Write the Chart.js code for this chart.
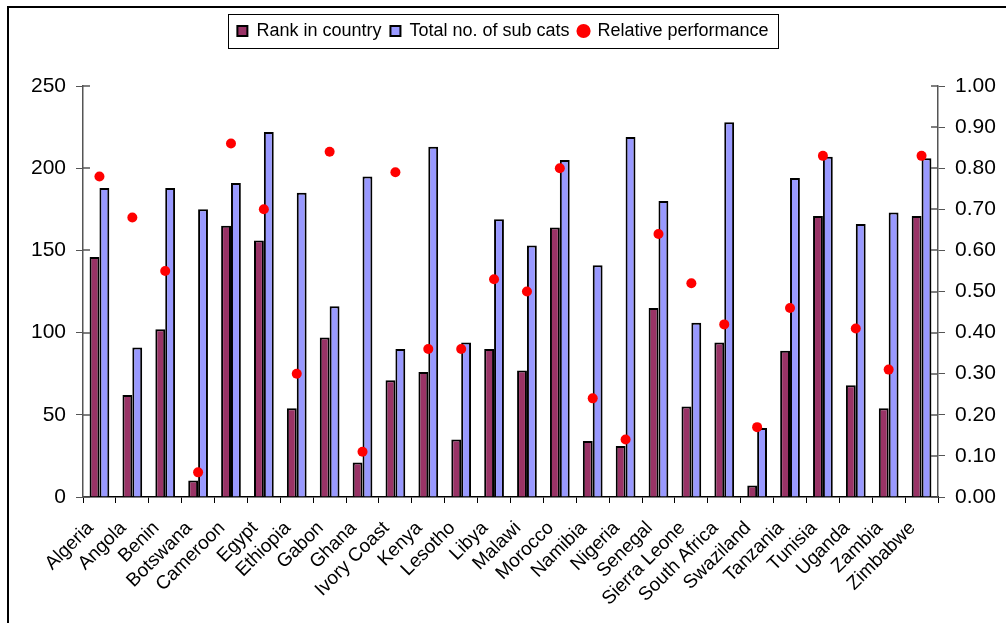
<!DOCTYPE html>
<html>
<head>
<meta charset="utf-8">
<script src="https://cdn.jsdelivr.net/npm/chart.js@4.4.0/dist/chart.umd.min.js"></script>
<style>
  html, body { margin: 0; padding: 0; background: #fff; overflow: hidden; }
  #wrap { position: relative; width: 1006px; height: 623px; }
  #frame { position: absolute; left: 7px; top: 6px; width: 1200px; height: 800px;
           border-left: 2px solid #000; border-top: 2px solid #000; pointer-events: none; }
  canvas { position: absolute; left: 0; top: 0; }
</style>
</head>
<body>
<div id="wrap">
  <canvas id="chart" width="1006" height="623"></canvas>
  <div id="frame"></div>
</div>
<script>
'use strict';

const countries = ['Algeria','Angola','Benin','Botswana','Cameroon','Egypt','Ethiopia','Gabon','Ghana','Ivory Coast',
  'Kenya','Lesotho','Libya','Malawi','Morocco','Namibia','Nigeria','Senegal','Sierra Leone','South Africa',
  'Swaziland','Tanzania','Tunisia','Uganda','Zambia','Zimbabwe'];
const rankInCountry = [146,62,102,10,165,156,54,97,21,71,76,35,90,77,164,34,31,115,55,94,7,89,171,68,54,171];
const totalSubCats = [188,91,188,175,191,222,185,116,195,90,213,94,169,153,205,141,219,180,106,228,42,194,207,166,173,206];
const relativePerf = [0.78,0.68,0.55,0.06,0.86,0.70,0.30,0.84,0.11,0.79,0.36,0.36,0.53,0.50,0.80,0.24,0.14,0.64,0.52,0.42,0.17,0.46,0.83,0.41,0.31,0.83];

const FONT = 'Liberation Sans, Arial, sans-serif';

// stretch legend block so the plot starts lower, box it, and draw ticks crossing the axes
const legendBox = {
  id: 'legendBox',
  afterInit(chart) {
    const lg = chart.legend;
    const orig = lg.fit;
    lg.fit = function() { orig.call(this); this.height += 36; };
  },
  afterDraw(chart) {
    const ctx = chart.ctx;
    const boxes = chart.legend.legendHitBoxes;
    if (boxes && boxes.length) {
      const l = Math.min(...boxes.map(b=>b.left)) - 9;
      const r = Math.max(...boxes.map(b=>b.left+b.width)) + 10;
      const t = boxes[0].top - 8;
      const h = boxes[0].height + 16;
      ctx.save();
      ctx.strokeStyle = '#000'; ctx.lineWidth = 1;
      ctx.strokeRect(Math.round(l)+0.5, Math.round(t)+0.5, Math.round(r-l), Math.round(h));
      ctx.restore();
    }
    // inner half of the tick marks (Excel style ticks cross the axis)
    const {y, y1} = chart.scales;
    ctx.save();
    ctx.strokeStyle = '#555'; ctx.lineWidth = 1.5;
    ctx.beginPath();
    y.ticks.forEach(t=>{ const py = Math.round(y.getPixelForValue(t.value)); ctx.moveTo(y.right, py); ctx.lineTo(y.right+7, py); });
    y1.ticks.forEach(t=>{ const py = Math.round(y1.getPixelForValue(t.value)); ctx.moveTo(y1.left, py); ctx.lineTo(y1.left-7, py); });
    ctx.stroke();
    ctx.restore();
  }
};

new Chart(document.getElementById('chart'), {
  type: 'bar',
  data: {
    labels: countries,
    datasets: [
      {label:'Rank in country',data:rankInCountry,backgroundColor:'#993366',borderColor:'#000',borderWidth:2,yAxisID:'y',order:1,pointStyle:'rect'},
      {label:'Total no. of sub cats',data:totalSubCats,backgroundColor:'#9999ff',borderColor:'#000',borderWidth:2,yAxisID:'y',order:1,pointStyle:'rect'},
      {type:'line',label:'Relative performance',data:relativePerf,showLine:false,yAxisID:'y1',order:0,
       pointStyle:'circle',pointRadius:5,pointHoverRadius:5,backgroundColor:'#ff0000',borderColor:'#ff0000',borderWidth:0}
    ]
  },
  plugins: [legendBox],
  options: {
    responsive:false, animation:false, devicePixelRatio:1,
    layout:{padding:{top:13,left:0,right:0,bottom:0}},
    datasets:{bar:{categoryPercentage:0.6,barPercentage:1.0}},
    plugins:{
      tooltip:{enabled:false},
      legend:{position:'top',
        labels:{color:'#000',font:{family:FONT,size:18},usePointStyle:true,boxWidth:10,boxHeight:10,padding:9,
          sort:(a,b)=>a.datasetIndex-b.datasetIndex}}
    },
    scales:{
      x:{
        grid:{display:true,drawOnChartArea:false,offset:true,color:'#000',tickLength:6},
        border:{display:true,color:'#000',width:1.5},
        ticks:{color:'#000',font:{family:FONT,size:19},minRotation:45,maxRotation:45,autoSkip:false,padding:14,labelOffset:-9},
        afterFit:s=>{s.height=126;}
      },
      y:{
        position:'left',min:0,max:250,
        grid:{display:true,drawOnChartArea:false,color:'#555',tickLength:7},
        border:{display:true,color:'#555',width:1.5},
        ticks:{stepSize:50,color:'#000',font:{family:FONT,size:21},padding:10},
        afterFit:s=>{s.width=83;}
      },
      y1:{
        position:'right',min:0,max:1,
        grid:{display:true,drawOnChartArea:false,color:'#555',tickLength:7},
        border:{display:true,color:'#555',width:1.5},
        ticks:{stepSize:0.1,color:'#000',font:{family:FONT,size:21},padding:10,callback:v=>v.toFixed(2)},
        afterFit:s=>{s.width=68;}
      }
    }
  }
});
</script>
</body>
</html>
